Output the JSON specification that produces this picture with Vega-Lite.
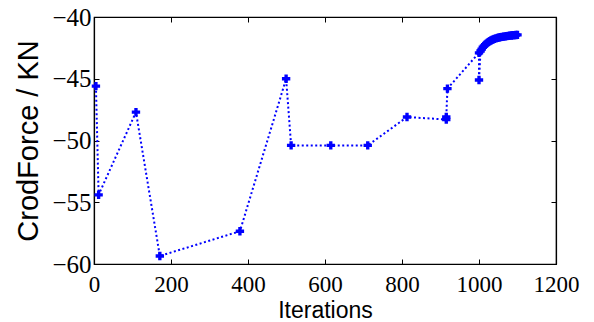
{
  "$schema": "https://vega.github.io/schema/vega-lite/v6.json",
  "width": 462,
  "height": 247,
  "autosize": {"type": "none"},
  "padding": {"left": 94, "top": 17, "right": 38, "bottom": 58},
  "background": "white",
  "config": {
    "view": {"stroke": "black", "strokeWidth": 1.2},
    "axis": {
      "grid": false,
      "domainColor": "black",
      "domainWidth": 1.2,
      "tickColor": "black",
      "labelColor": "black",
      "titleColor": "black",
      "tickSize": -5,
      "labelFont": "Liberation Serif",
      "titleFont": "Liberation Sans",
      "titleFontWeight": "normal"
    }
  },
  "data": {
    "values": [
      {"i": 1, "it": 5, "f": -45.6},
      {"i": 2, "it": 12, "f": -54.4},
      {"i": 3, "it": 109, "f": -47.7},
      {"i": 4, "it": 171, "f": -59.35},
      {"i": 5, "it": 379, "f": -57.35},
      {"i": 6, "it": 499, "f": -45.0},
      {"i": 7, "it": 512, "f": -50.4},
      {"i": 8, "it": 615, "f": -50.4},
      {"i": 9, "it": 711, "f": -50.4},
      {"i": 10, "it": 813, "f": -48.1},
      {"i": 11, "it": 915, "f": -48.3},
      {"i": 12, "it": 915, "f": -48.1},
      {"i": 13, "it": 918, "f": -45.8},
      {"i": 14, "it": 1000, "f": -42.9},
      {"i": 15, "it": 1000, "f": -45.1},
      {"i": 16, "it": 1004, "f": -42.75},
      {"i": 17, "it": 1007, "f": -42.6},
      {"i": 18, "it": 1010, "f": -42.45},
      {"i": 19, "it": 1013, "f": -42.35},
      {"i": 20, "it": 1016, "f": -42.25},
      {"i": 21, "it": 1019, "f": -42.16},
      {"i": 22, "it": 1022, "f": -42.08},
      {"i": 23, "it": 1025, "f": -42.01},
      {"i": 24, "it": 1028, "f": -41.95},
      {"i": 25, "it": 1031, "f": -41.9},
      {"i": 26, "it": 1034, "f": -41.85},
      {"i": 27, "it": 1037, "f": -41.81},
      {"i": 28, "it": 1040, "f": -41.77},
      {"i": 29, "it": 1044, "f": -41.73},
      {"i": 30, "it": 1048, "f": -41.69},
      {"i": 31, "it": 1052, "f": -41.66},
      {"i": 32, "it": 1056, "f": -41.63},
      {"i": 33, "it": 1060, "f": -41.61},
      {"i": 34, "it": 1064, "f": -41.59},
      {"i": 35, "it": 1068, "f": -41.57},
      {"i": 36, "it": 1072, "f": -41.55},
      {"i": 37, "it": 1076, "f": -41.53},
      {"i": 38, "it": 1080, "f": -41.51},
      {"i": 39, "it": 1084, "f": -41.5},
      {"i": 40, "it": 1088, "f": -41.48},
      {"i": 41, "it": 1092, "f": -41.47},
      {"i": 42, "it": 1096, "f": -41.46},
      {"i": 43, "it": 1100, "f": -41.45}
    ]
  },
  "layer": [
    {
      "encoding": {
        "x": {"field": "it", "type": "quantitative", "scale": {"domain": [0, 1200], "nice": false},
          "axis": {"values": [0, 200, 400, 600, 800, 1000, 1200], "format": "d", "title": "Iterations", "labelFontSize": 23, "titleFontSize": 23, "labelPadding": 14, "titlePadding": 3, "labelFlush": false}},
        "y": {"field": "f", "type": "quantitative", "scale": {"domain": [-60, -40], "nice": false, "zero": false},
          "axis": {"values": [-60, -55, -50, -45, -40], "title": "CrodForce / KN", "labelFontSize": 25, "titleFontSize": 29, "labelPadding": 8, "titlePadding": 8, "labelFlush": false}}
      },
      "layer": [
        {
          "mark": {"type": "line", "color": "#0000FF", "strokeWidth": 2, "strokeDash": [2, 2.5]},
          "encoding": {"order": {"field": "i", "type": "quantitative"}}
        },
        {
          "mark": {"type": "point", "shape": "cross", "filled": true, "color": "#0000FF", "size": 70, "opacity": 1}
        }
      ]
    },
    {
      "mark": {"type": "point", "opacity": 0},
      "encoding": {
        "x": {"field": "it", "type": "quantitative", "scale": {"domain": [0, 1200], "nice": false},
          "axis": {"orient": "top", "values": [0, 200, 400, 600, 800, 1000, 1200], "labels": false, "title": null}},
        "y": {"field": "f", "type": "quantitative", "scale": {"domain": [-60, -40], "nice": false, "zero": false},
          "axis": {"orient": "right", "values": [-60, -55, -50, -45, -40], "labels": false, "title": null}}
      }
    }
  ],
  "resolve": {"scale": {"x": "independent", "y": "independent"}, "axis": {"x": "independent", "y": "independent"}}
}
